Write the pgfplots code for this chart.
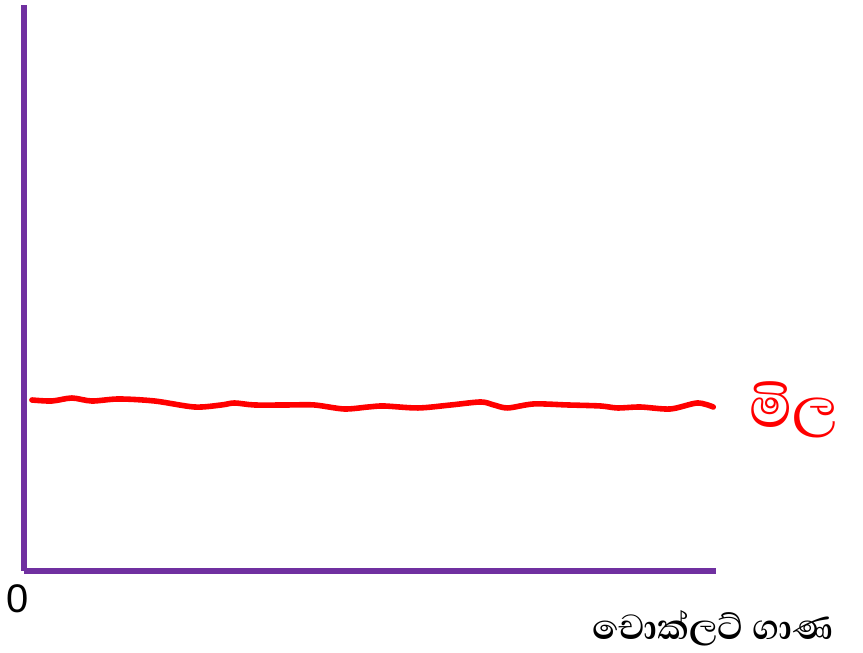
\documentclass[border=0pt]{standalone}
\usepackage{pgfplots}
\pgfplotsset{compat=1.18}
\usepackage{fontspec}
\setmainfont{Liberation Sans}
\newfontfamily\sinhala[Script=Sinhala]{Abhaya Libre}
\definecolor{axpurple}{RGB}{112,48,160}
\definecolor{curvered}{RGB}{255,0,0}
\begin{document}
\begin{tikzpicture}
\begin{axis}[
    scale only axis,
    width=347pt, height=283.5pt,
    xmin=0, xmax=100, ymin=0, ymax=100,
    axis lines*=left,
    axis line style={draw=axpurple, line width=3pt},
    xtick=\empty, ytick=\empty,
    clip=false,
]
% price stays flat however many chocolates
\addplot[curvered, line width=2.8pt, smooth, line cap=round] coordinates {
    (1.15,30.16) (4.03,29.98) (6.92,30.51) (9.80,29.98) (13.69,30.34)
    (18.88,29.98) (24.64,28.92) (28.53,29.28) (30.40,29.63) (33.29,29.28)
    (38.18,29.28) (41.93,29.28) (46.25,28.57) (49.71,28.92) (52.02,29.10)
    (56.92,28.75) (61.67,29.28) (65.99,29.81) (67.87,29.28) (69.88,28.75)
    (73.63,29.46) (78.53,29.28) (83.29,29.10) (85.73,28.75) (89.05,28.92)
    (93.37,28.57) (97.26,29.63) (99.57,28.92)
};
\node[font=\fontsize{20}{24}\selectfont] at (axis cs:-0.9,-5) {0};
\node[font=\sinhala\bfseries\fontsize{22.5}{26}\selectfont, anchor=base] at (axis cs:99.5,-12.2) {චොක්ලට් ගාණ};
\node[font=\sinhala\fontsize{36}{40}\selectfont, text=curvered] at (axis cs:111.2,28.5) {මිල};
\path (axis cs:-3.17,-13.76) rectangle (axis cs:121.2,100.88);
\end{axis}
\end{tikzpicture}
\end{document}
